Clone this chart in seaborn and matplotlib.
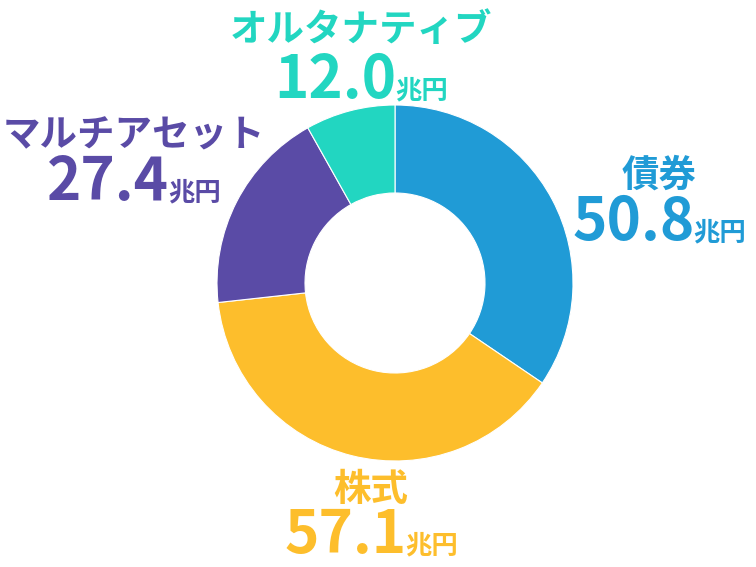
import seaborn as sns
import matplotlib
matplotlib.use("Agg")
from matplotlib import pyplot as plt
from matplotlib.offsetbox import TextArea, HPacker, AnnotationBbox

# data
labels = ['債券', '株式', 'マルチアセット', 'オルタナティブ']
values = [50.8, 57.1, 27.4, 12.0]
unit = '兆円'
colors = ['#209BD6', '#FDBE2C', '#5A4BA6', '#22D6C1']

W, H = 756, 567


def draw():
    sns.set_theme(style='white')
    plt.rcParams['font.family'] = ['Noto Sans CJK JP', 'DejaVu Sans']
    pal = sns.color_palette(colors)

    fig = plt.figure(figsize=(W / 100, H / 100), dpi=100)
    ax = fig.add_axes([0, 0, 1, 1])

    # donut
    ax.pie(values, colors=pal, startangle=90, counterclock=False,
           center=(395, H - 283), radius=178,
           wedgeprops=dict(width=88, edgecolor='white', linewidth=0.8))
    # pie resets the limits, so set them afterwards
    ax.set_xlim(0, W)
    ax.set_ylim(0, H)
    ax.set_aspect('equal')
    ax.axis('off')

    # label positions (x centre, y of name centre, y of number box bottom), image coords
    pos = [(659, 175, 253), (371, 490, 566), (134, 135, 213), (361, 29, 111)]
    for lab, val, col, (x, yl, yn) in zip(labels, values, pal, pos):
        ax.text(x, H - yl, lab, color=col, fontsize=27, fontweight='bold',
                ha='center', va='center')
        num = TextArea(f'{val:.1f}', textprops=dict(color=col, fontsize=42, fontweight='bold',
                                                     family=['Noto Sans CJK JP', 'DejaVu Sans']))
        u = TextArea(unit, textprops=dict(color=col, fontsize=19, fontweight='bold',
                                          family=['Noto Sans CJK JP', 'DejaVu Sans']))
        box = HPacker(children=[num, u], align='baseline', pad=0, sep=-1)
        ab = AnnotationBbox(box, (x, H - yn), xycoords='data', frameon=False,
                            box_alignment=(0.5, 0), pad=0)
        ax.add_artist(ab)

    fig.savefig('out.png', dpi=100, facecolor='white')


def main():
    draw()


if __name__ == '__main__':
    main()
